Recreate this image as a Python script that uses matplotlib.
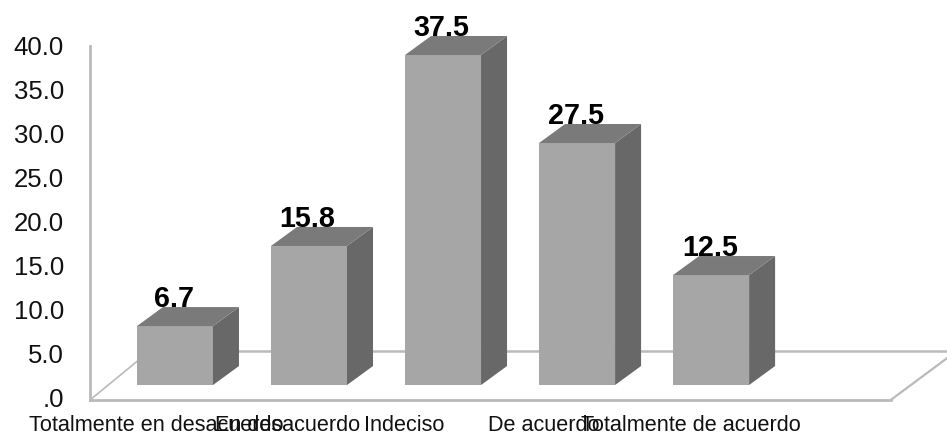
import matplotlib
matplotlib.use('Agg')
import matplotlib.pyplot as plt

categories = ['Totalmente en desacuerdo', 'En desacuerdo', 'Indeciso', 'De acuerdo', 'Totalmente de acuerdo']
values = [6.7, 15.8, 37.5, 27.5, 12.5]
y_ticks = [0, 5, 10, 15, 20, 25, 30, 35, 40]
y_tick_labels = ['.0', '5.0', '10.0', '15.0', '20.0', '25.0', '30.0', '35.0', '40.0']

# label centres relative to the bars, they are not evenly spaced in the original
label_pos = [-0.14, 0.84, 1.71, 2.75, 3.85]

BAR_W = 0.567
DX = 0.194   # depth of the fake 3d, in category units
DY = 2.16    # same, in value units
WALL = -1.7  # floor front edge sits below the bar bases

plt.rcParams['font.family'] = ['Liberation Sans', 'DejaVu Sans']

fig = plt.figure(figsize=(9.47, 4.34), dpi=100)
ax = fig.add_axes([90 / 947, 34 / 434, 857 / 947, 400 / 434])
ax.set_xlim(-0.634, 5.76)
ax.set_ylim(WALL, 43.75)
ax.patch.set_visible(False)
for s in ax.spines.values():
    s.set_visible(False)

# wall and floor
grey = '#bababa'
ax.plot([-0.634, -0.634], [WALL, 38.5], color=grey, lw=2.0, zorder=1, clip_on=False)
ax.plot([-0.634, 5.34], [WALL, WALL], color=grey, lw=2.0, zorder=1, clip_on=False)
ax.plot([-0.634, -0.19], [WALL, 3.85], color=grey, lw=1.2, zorder=1)
ax.plot([-0.19, 5.76], [3.85, 3.85], color=grey, lw=1.8, zorder=1)
ax.plot([5.34, 5.76], [WALL, 3.05], color=grey, lw=1.6, zorder=1)

# bars
for i, v in enumerate(values):
    l = i - BAR_W / 2
    r = i + BAR_W / 2
    ax.bar(i, v, width=BAR_W, color='#a6a6a6', zorder=3)
    ax.fill([r, r + DX, r + DX, r], [0, DY, v + DY, v], color='#686868', lw=0, zorder=3)
    ax.fill([l, l + DX, r + DX, r], [v, v + DY, v + DY, v], color='#7a7a7a', lw=0, zorder=3)
    ax.text(i - 0.01, v + DY, f'{v:.1f}', ha='center', va='baseline',
            fontsize=20.7, fontweight='bold', color='black', zorder=4, clip_on=False)

ax.set_yticks([t - 1.4 for t in y_ticks])
ax.set_yticklabels(y_tick_labels, fontsize=18.5, color='#111111')
ax.set_xticks(label_pos)
ax.set_xticklabels(categories, fontsize=15.6, color='#111111')
ax.tick_params(axis='y', length=0, pad=18.7)
ax.tick_params(axis='x', length=0, pad=10.5)

fig.savefig('out.png', dpi=100)
